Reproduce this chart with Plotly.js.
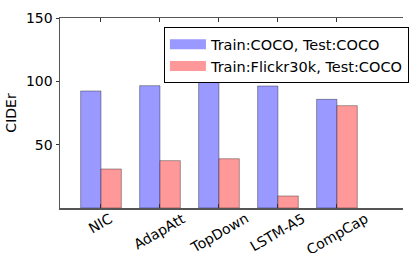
<!DOCTYPE html>
<html>
<head>
<meta charset="utf-8">
<script src="https://cdn.plot.ly/plotly-3.0.1.min.js"></script>
<style>html,body{margin:0;padding:0;background:#fff;}#chart{width:409px;height:253px;}</style>
</head>
<body>
<div id="chart"></div>
<script>
const categories = ["NIC", "AdapAtt", "TopDown", "LSTM-A5", "CompCap"];
const cocoCoco = [92.4, 96.6, 100.5, 96.3, 85.8];
const flickrCoco = [30.8, 37.4, 38.9, 9.5, 80.8];
const seriesNames = ["Train:COCO, Test:COCO", "Train:Flickr30k, Test:COCO"];
const seriesColors = ["#9999ff", "#ff9999"];
const yTicks = [50, 100, 150];

const xs = categories.map((c, i) => i);
const font = "DejaVu Sans, sans-serif";
const edge = "rgba(0,0,0,0.35)";

const traces = [
  {type: "bar", name: seriesNames[0], x: xs, y: cocoCoco, width: 0.345, offset: -0.345,
   legendgroup: "a", showlegend: false,
   marker: {color: seriesColors[0], line: {color: edge, width: 1}}},
  {type: "bar", name: seriesNames[1], x: xs, y: flickrCoco, width: 0.345, offset: 0,
   legendgroup: "b", showlegend: false,
   marker: {color: seriesColors[1], line: {color: edge, width: 1}}},
  // legend keys drawn as wide patches, linked to the bar traces
  {type: "scatter", mode: "lines", name: seriesNames[0], x: [null], y: [null],
   legendgroup: "a", line: {color: seriesColors[0], width: 10}},
  {type: "scatter", mode: "lines", name: seriesNames[1], x: [null], y: [null],
   legendgroup: "b", line: {color: seriesColors[1], width: 10}}
];

const annotations = categories.map((c, i) => ({
  x: i, y: 0, xref: "x", yref: "y", text: c, showarrow: false,
  textangle: -30, xanchor: "center", yanchor: "top", yshift: 1,
  font: {family: font, size: 14, color: "#000"}
}));

const layout = {
  width: 409, height: 253,
  margin: {l: 60, r: 0, t: 18, b: 45},
  paper_bgcolor: "#fff", plot_bgcolor: "#fff",
  barmode: "overlay",
  font: {family: font, size: 14, color: "#000"},
  showlegend: true,
  legend: {x: 0.303, y: 0.951, xanchor: "left", yanchor: "top",
    bordercolor: "#000", borderwidth: 1, bgcolor: "#fff", itemwidth: 36,
    font: {family: font, size: 14.5, color: "#000"}, tracegroupgap: 0},
  xaxis: {range: [-0.695, 5.12], tickvals: xs, ticktext: categories.map(() => ""),
    ticks: "inside", ticklen: 4, tickcolor: "#333", tickwidth: 1,
    showline: true, linecolor: "#555", linewidth: 1.5, mirror: "ticks",
    showgrid: false, zeroline: false, fixedrange: true},
  yaxis: {range: [0, 150], tickvals: yTicks, ticks: "outside", ticklen: 3, tickcolor: "#333",
    showline: true, linecolor: "#555", linewidth: 1.5, showgrid: false, zeroline: false,
    tickfont: {family: font, size: 14, color: "#000"},
    title: {text: "CIDEr", font: {family: font, size: 14, color: "#000"}, standoff: 6}},
  annotations: annotations
};

Plotly.newPlot("chart", traces, layout, {displayModeBar: false, staticPlot: true});
</script>
</body>
</html>
